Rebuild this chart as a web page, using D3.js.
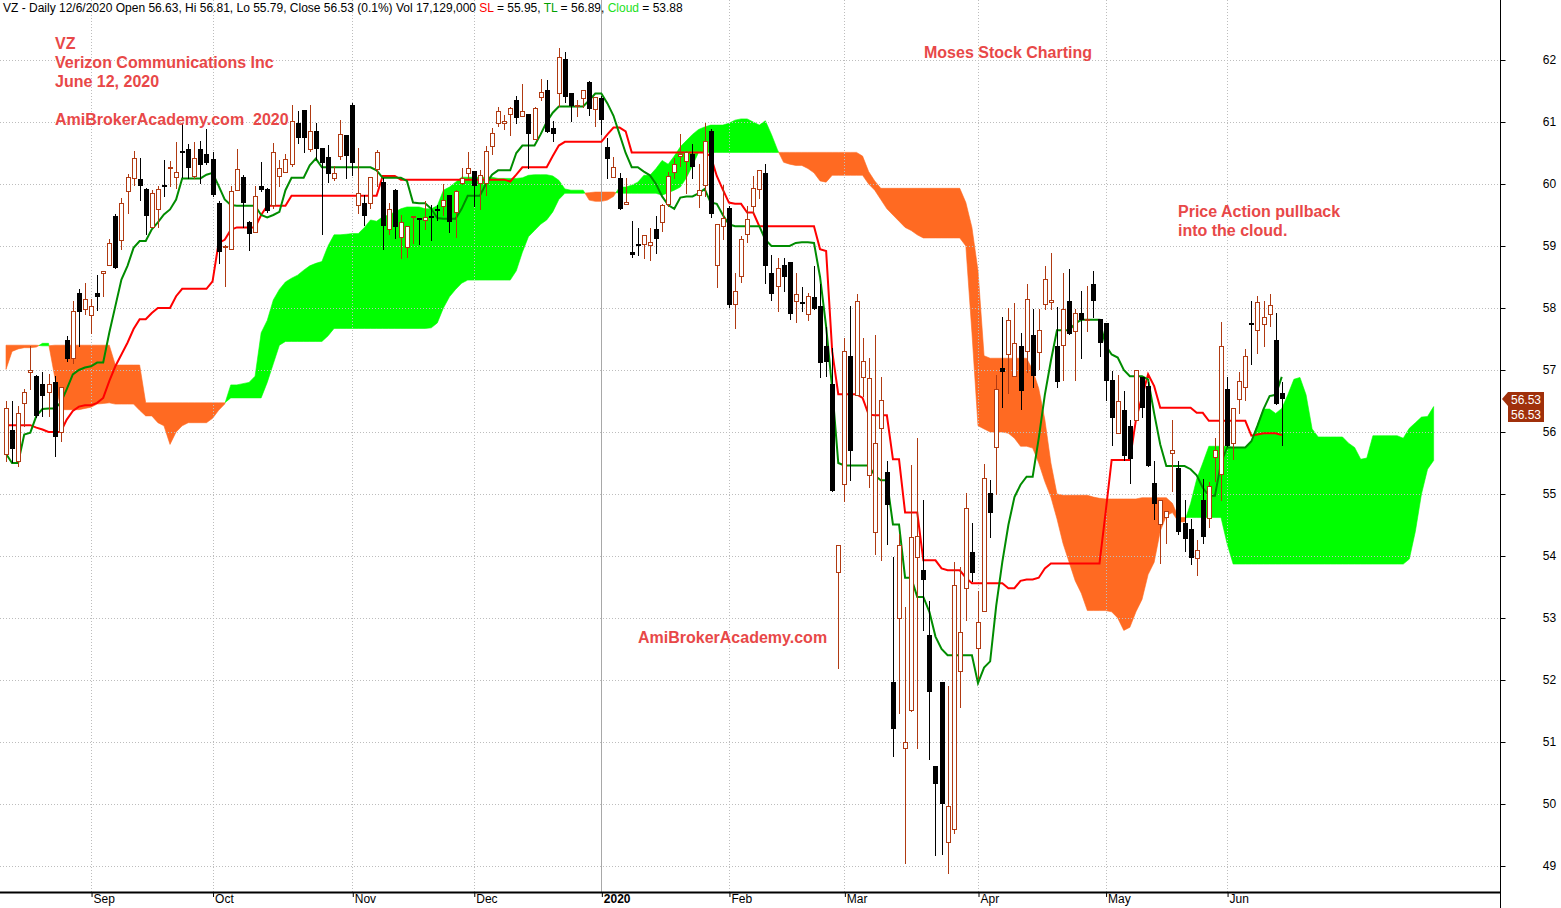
<!DOCTYPE html>
<html><head><meta charset="utf-8">
<script src="https://cdn.jsdelivr.net/npm/d3@7"></script>
<style>html,body{margin:0;padding:0;background:#fff;overflow:hidden}text{font-family:"Liberation Sans",Arial,sans-serif}</style>
</head><body>
<svg id="c" width="1561" height="908"></svg>
<script>
// ---- data (bar 0 = 13 Aug 2019, last bar = 12 Jun 2020) ----
const openP = [
55.64,56.04,55.53,56.47,56.97, 56.90,56.78,56.65,56.80,56.00, 57.49,57.20,58.24,57.99,57.89,
58.24,58.57,58.69,59.49,59.10, 59.89,60.09,60.08,59.92,59.31, 59.60,59.98,60.26,60.12,60.53,
60.57,60.13,60.56,60.49,60.40, 59.70,58.98,58.95,59.90,60.11, 59.39,59.23,59.97,59.92,59.66,
60.13,60.20,60.33,60.99,61.20, 60.57,60.86,60.58,60.43,60.09, 60.45,60.79,61.27,59.66,59.69,
59.69,60.24,60.03,59.28,59.90, 59.14,58.99,59.46,59.45,59.42, 59.48,59.60,59.65,59.83,59.55,
60.02,60.17,60.21,60.01,60.01, 60.62,60.99,60.98,61.13,61.35, 61.09,61.13,60.72,61.40,61.51,
60.90,61.46,62.01,61.46,61.26, 61.38,61.64,61.21,61.38,60.60, 60.11,60.10,59.68,58.91,59.03,
59.03,59.01,59.27,59.38,59.68, 60.20,60.45,60.37,60.49,59.83, 59.98,60.85,58.69,59.32,59.61,
58.07,58.52,59.20,59.65,59.92, 60.18,58.57,58.35,58.70,58.75, 58.11,58.09,57.91,58.18,58.04,
57.38,56.78,53.74,55.16,57.22, 56.60,56.88,55.30,54.38,56.07, 55.36,51.96,53.00,50.91,51.51,
53.99,53.77,52.73,50.62,51.97, 49.38,49.60,52.15,53.49,54.07, 52.51,53.12,55.01,55.75,57.03,
57.26,56.90,57.39,57.30,57.56, 57.29,58.06,58.10,57.39,57.41, 58.12,57.63,57.92,57.80,58.38,
57.82,57.76,56.84,55.99,56.36, 56.10,56.20,56.88,56.75,55.17, 54.51,54.63,55.66,55.42,54.54,
54.44,53.96,54.91,54.62,55.59, 55.33,56.70,55.83,56.53,56.73, 57.76,57.65,57.75,57.90,57.48,
56.63];
const highP = [
56.50,56.50,56.42,56.69,57.39, 56.92,56.96,56.93,56.90,56.72, 57.55,58.11,58.30,58.41,58.15,
58.53,58.60,59.11,59.51,59.78, 60.16,60.53,60.42,59.94,59.91, 59.96,60.38,60.37,60.67,60.99,
60.64,60.67,60.69,60.88,60.51, 59.72,59.01,59.96,60.56,60.15, 59.40,59.97,60.36,59.93,60.66,
60.39,60.49,61.27,61.18,61.20, 61.28,60.98,60.58,60.63,60.29, 61.03,60.79,61.30,60.58,59.82,
60.11,60.55,60.09,59.69,59.92, 59.50,59.32,59.49,59.45,59.72, 59.66,59.66,60.00,59.83,59.90,
60.26,60.51,60.21,60.22,60.62, 60.90,61.24,61.12,61.24,61.42, 61.61,61.13,61.24,61.69,61.68,
61.01,62.20,62.13,61.46,61.35, 61.52,61.66,61.40,61.42,60.75, 60.43,60.17,60.09,59.40,59.29,
59.17,59.29,59.49,59.68,60.19, 60.42,60.80,60.53,60.64,60.32, 60.98,60.89,59.36,59.99,59.65,
58.56,59.16,59.65,60.13,60.23, 60.33,58.85,58.81,58.80,58.75, 58.56,58.34,58.24,58.68,58.38,
57.70,57.36,54.17,57.52,58.04, 58.22,57.51,57.20,57.56,56.88, 55.53,53.99,54.36,53.17,55.46,
55.91,54.91,53.28,50.62,51.97, 51.91,53.90,53.83,55.02,54.53, 53.44,55.49,55.23,56.92,57.86,
58.00,58.08,57.59,58.38,57.99, 57.99,58.68,58.89,58.02,58.56, 58.63,57.98,58.27,58.36,58.60,
57.82,57.76,56.99,56.92,56.66, 56.20,57.00,56.89,56.80,55.54, 54.91,54.72,56.19,55.53,54.90,
54.60,54.26,55.24,55.20,55.91, 57.77,56.88,56.39,56.96,57.34, 58.11,58.19,58.11,58.22,57.92,
56.81];
const lowP = [
55.53,55.51,55.45,56.10,56.69, 56.24,56.26,56.26,55.62,55.85, 57.15,57.12,57.38,57.90,57.60,
57.97,58.19,58.69,58.65,58.95, 59.54,59.98,59.74,59.19,59.31, 59.30,59.81,59.97,59.94,60.12,
60.10,60.10,60.02,60.33,59.81, 58.73,58.35,58.95,59.90,59.31, 58.94,59.23,59.88,59.55,59.61,
59.96,60.20,60.29,60.66,60.51, 60.53,60.41,59.20,60.04,60.06, 60.41,60.09,60.15,59.54,59.34,
59.62,59.96,58.95,59.19,59.13, 58.80,58.83,59.05,59.03,59.28, 59.09,59.42,59.50,59.23,59.15,
60.00,60.09,59.65,59.60,59.82, 60.49,60.93,60.88,60.79,60.99, 61.09,60.26,60.72,61.35,60.84,
60.70,61.26,61.32,61.02,61.10, 61.24,61.11,60.94,60.81,60.10, 60.11,59.59,59.67,58.83,58.86,
58.81,58.78,58.89,59.24,59.65, 60.10,60.29,59.86,60.10,59.63, 59.81,59.46,58.34,59.11,58.02,
57.67,58.42,59.06,59.53,59.78, 58.41,58.13,57.95,58.27,57.82, 57.77,57.95,57.81,57.99,56.88,
56.90,55.05,52.20,54.88,55.22, 56.60,56.58,55.11,54.03,53.94, 54.20,50.78,51.47,49.05,51.50,
50.90,52.80,50.73,49.17,49.20, 48.88,49.54,51.56,52.96,53.59, 52.04,53.12,54.30,55.00,56.41,
56.63,56.90,56.37,56.97,56.73, 57.01,57.98,57.98,56.73,56.84, 57.58,56.84,57.19,57.63,57.86,
57.22,56.52,55.79,55.99,55.55, 55.18,56.20,56.25,55.45,54.59, 53.89,54.21,55.05,54.35,54.08,
53.87,53.69,54.21,54.46,55.21, 54.91,55.77,55.56,56.31,56.52, 57.10,57.28,57.39,57.71,56.45,
55.79];
const closeP = [
56.38,55.72,56.30,56.65,57.00, 56.26,56.58,56.78,55.92,56.72, 57.17,57.95,57.94,58.15,58.03,
58.18,58.59,59.05,58.65,59.70, 60.12,60.42,59.96,59.48,59.86, 59.92,59.97,60.28,60.20,60.51,
60.26,60.42,60.31,60.34,59.83, 58.90,59.00,59.89,60.24,59.70, 59.20,59.81,59.90,59.57,60.52,
60.26,60.40,61.02,60.74,60.75, 60.86,60.56,60.34,60.16,60.17, 60.80,60.45,60.34,59.85,59.48,
60.11,60.51,59.33,59.60,59.30, 59.39,59.32,59.49,59.43,59.47, 59.46,59.58,59.75,59.38,59.88,
60.10,60.25,59.97,60.14,60.53, 60.82,61.18,61.01,61.22,61.06, 61.18,60.80,61.22,61.49,60.84,
60.80,62.05,61.40,61.26,61.28, 61.52,61.21,61.40,61.04,60.40, 60.27,59.59,59.71,58.86,59.01,
59.17,59.06,59.11,59.66,60.13, 60.32,60.49,60.51,60.28,59.91, 60.69,59.51,59.36,59.45,58.05,
58.27,59.12,59.44,59.94,60.23, 58.68,58.22,58.65,58.50,57.90, 58.22,58.07,58.20,57.99,57.11,
57.13,55.05,54.17,57.31,55.70, 58.11,57.15,56.87,55.83,56.52, 54.82,51.21,54.17,51.00,54.31,
54.33,53.62,51.81,50.33,50.00, 49.96,53.54,52.78,54.78,53.72, 52.93,55.25,54.70,56.69,56.97,
57.80,57.44,56.66,58.14,56.91, 57.65,58.46,58.13,56.80,57.99, 57.58,57.92,57.81,57.82,58.11,
57.43,56.82,56.23,56.50,55.61, 55.57,57.00,56.39,55.45,54.84, 54.91,54.72,55.71,54.38,54.27,
53.97,54.10,54.30,55.13,55.71, 57.38,55.77,56.39,56.82,57.22, 57.74,58.09,57.86,58.05,56.45,
56.53];
// TL (turning line, green)
const turningLine = [
55.65,55.5,55.5,55.96,55.99, 56.26,56.37,56.38,56.38,56.47, 56.69,56.93,57.0,57.04,57.06,
57.12,57.12,57.6,58.03,58.46, 58.68,58.97,59.08,59.08,59.27, 59.38,59.51,59.59,59.75,60.09,
60.09,60.09,60.09,60.15,60.18, 59.97,59.75,59.66,59.65,59.65, 59.65,59.65,59.5,59.46,59.5,
59.55,59.9,60.1,60.1,60.1, 60.3,60.41,60.27,60.27,60.27, 60.27,60.27,60.27,60.27,60.27,
60.27,60.22,60.1,60.1,60.1, 60.1,60.05,59.7,59.69,59.69, 59.6,59.45,59.44,59.44,59.44,
59.6,59.81,59.81,59.81,60.0, 60.15,60.22,60.22,60.22,60.5, 60.62,60.62,60.62,60.8,61.0,
61.15,61.25,61.25,61.25,61.25, 61.25,61.35,61.46,61.46,61.3, 61.1,60.8,60.5,60.27,60.27,
60.2,60.14,60.0,59.8,59.66, 59.6,59.78,59.8,59.8,59.85, 59.92,59.7,59.68,59.5,59.35,
59.32,59.32,59.32,59.32,59.32, 59.1,59.0,59.0,59.0,59.0, 59.05,59.06,59.06,59.05,58.5,
57.7,56.7,55.5,55.46,55.46, 55.46,55.46,55.46,55.3,55.22, 55.22,54.51,54.51,53.65,53.65,
53.34,53.34,53.1,52.7,52.5, 52.4,52.4,52.4,52.4,52.4, 51.95,52.2,52.3,53.2,53.9,
54.5,54.95,55.15,55.28,55.28, 55.9,56.6,57.15,57.64,57.64, 57.64,57.75,57.81,57.81,57.81,
57.81,57.4,57.25,57.2,57.0, 56.9,56.9,56.9,56.85,56.3, 55.8,55.45,55.45,55.45,55.45,
55.4,55.3,55.1,54.97,54.97, 55.5,55.75,55.75,55.75,55.75, 55.85,56.1,56.37,56.58,56.6,
56.89];
// SL (standard line, red)
const standardLine = [
56.11,56.11,56.11,56.11,56.11, 56.07,56.04,56.0,56.0,56.0, 56.2,56.34,56.41,56.43,56.43,
56.47,56.55,56.82,57.06,57.25, 57.44,57.66,57.82,57.82,57.92, 58.0,58.0,58.0,58.19,58.31,
58.31,58.31,58.31,58.31,58.43, 59.05,59.1,59.26,59.3,59.3, 59.3,59.3,59.5,59.65,59.65,
59.65,59.65,59.81,59.81,59.81, 59.81,59.81,59.81,59.81,59.81, 59.81,59.81,59.81,59.81,59.81,
59.81,59.81,60.13,60.13,60.13, 60.07,60.07,60.07,60.07,60.07, 60.07,60.07,60.07,60.07,60.07,
60.07,60.07,60.07,60.07,60.07, 60.07,60.07,60.07,60.04,60.15, 60.27,60.27,60.27,60.27,60.27,
60.45,60.62,60.68,60.68,60.68, 60.68,60.68,60.68,60.68,60.8, 60.91,60.91,60.85,60.51,60.51,
60.51,60.51,60.51,60.51,60.51, 60.51,60.51,60.51,60.51,60.51, 60.51,60.45,60.13,59.91,59.70,
59.68,59.68,59.54,59.54,59.32, 59.32,59.32,59.32,59.32,59.32, 59.32,59.32,59.32,59.32,58.95,
58.92,57.3,56.61,56.61,56.61, 56.61,56.55,56.28,56.27,56.27, 56.27,55.56,55.56,54.7,54.7,
54.7,53.93,53.93,53.93,53.8, 53.77,53.77,53.77,53.65,53.56, 53.56,53.56,53.56,53.56,53.56,
53.48,53.48,53.6,53.62,53.62, 53.65,53.8,53.88,53.88,53.88, 53.88,53.88,53.88,53.88,53.88,
53.88,54.7,55.55,55.55,55.55, 55.55,56.2,56.57,56.93,56.74, 56.39,56.39,56.39,56.39,56.39,
56.39,56.31,56.31,56.18,56.18, 56.18,56.18,56.18,56.18,56.18, 55.94,55.96,55.98,55.98,55.98,
55.95];
// Cloud spans (shifted forward; 25 bars beyond the last bar)
const cloudA = [
57.01,57.30,57.34,57.36,57.36, 57.37,57.43,57.43,56.90,56.36, 56.36,56.36,56.36,56.38,56.40,
56.45,56.46,56.47,56.45,56.45, 56.45,56.45,56.35,56.26,56.26, 56.15,56.10,55.80,56.00,56.10,
56.15,56.15,56.15,56.15,56.22, 56.35,56.45,56.76,56.76,56.78, 56.80,56.90,57.60,57.80,58.13,
58.30,58.42,58.48,58.53,58.61, 58.68,58.72,58.75,59.00,59.18, 59.18,59.19,59.20,59.20,59.30,
59.42,59.40,59.47,59.50,59.55, 59.60,59.63,59.63,59.63,59.60, 59.60,59.65,59.90,59.95,60.03,
60.11,60.11,60.11,60.11,60.11, 60.11,60.09,60.09,60.09,60.09, 60.10,60.14,60.15,60.15,60.15,
60.13,60.06,59.92,59.90,59.90, 59.90,59.74,59.72,59.72,59.74, 59.80,59.95,59.95,59.98,60.03,
60.14,60.14,60.25,60.38,60.32, 60.45,60.60,60.70,60.80,60.88, 60.92,60.95,60.95,60.95,60.98,
61.03,61.05,61.05,61.00,60.95, 61.02,60.80,60.55,60.35,60.32, 60.30,60.30,60.25,60.18,60.05,
60.03,60.14,60.14,60.14,60.14, 60.14,60.14,60.00,59.90,59.75, 59.60,59.50,59.40,59.30,59.25,
59.18,59.13,59.13,59.13,59.13, 59.13,59.13,59.13,59.00,57.60, 56.10,56.05,56.00,56.00,56.00,
55.98,55.90,55.77,55.77,55.74, 55.50,55.20,54.95,54.60,54.20, 53.90,53.60,53.40,53.12,53.12,
53.12,53.12,53.10,53.00,52.80, 52.85,53.10,53.30,53.70,53.90, 54.40,54.65,54.70,54.55,54.55,
54.85,55.24,55.50,55.77,55.77, 55.77,55.77,55.75,55.75,55.75, 55.85,56.12,56.37,56.37,56.30,
56.38,56.60,56.85,56.88,56.60, 56.05,55.92,55.92,55.92,55.92, 55.92,55.82,55.75,55.56,55.58,
55.94,55.94,55.94,55.94,55.94, 55.90,56.06,56.15,56.24,56.25, 56.41];
const cloudB = [
57.40,57.40,57.40,57.40,57.40, 57.40,57.39,57.39,57.40,57.40, 57.40,57.40,57.40,57.40,57.40,
57.40,57.40,57.40,57.08,57.08, 57.08,57.08,57.08,56.47,56.47, 56.47,56.47,56.47,56.47,56.47,
56.47,56.47,56.47,56.47,56.47, 56.47,56.47,56.55,56.55,56.55, 56.55,56.55,56.55,56.80,57.10,
57.40,57.46,57.46,57.46,57.46, 57.46,57.46,57.46,57.55,57.67, 57.67,57.67,57.67,57.67,57.67,
57.67,57.67,57.67,57.67,57.67, 57.67,57.67,57.67,57.67,57.67, 57.68,57.76,58.00,58.18,58.30,
58.40,58.45,58.45,58.45,58.45, 58.45,58.45,58.45,58.45,58.60, 58.90,59.15,59.25,59.35,59.42,
59.55,59.75,59.85,59.85,59.85, 59.85,59.86,59.87,59.87,59.87, 59.87,59.85,59.85,59.85,59.85,
59.85,59.85,59.85,59.82,59.86, 59.90,59.95,60.10,60.30,60.51, 60.51,60.51,60.51,60.51,60.51,
60.51,60.51,60.51,60.51,60.51, 60.51,60.51,60.51,60.51,60.51, 60.51,60.51,60.51,60.51,60.51,
60.51,60.51,60.51,60.51,60.51, 60.51,60.45,60.20,60.05,59.93, 59.93,59.93,59.93,59.93,59.93,
59.93,59.93,59.93,59.93,59.93, 59.93,59.93,59.93,59.70,59.30, 58.60,57.23,57.19,57.19,57.19,
57.19,57.19,57.19,57.19,57.00, 56.70,56.20,55.50,55.00,54.98, 54.98,54.98,54.98,54.98,54.95,
54.93,54.92,54.92,54.92,54.92, 54.92,54.92,54.94,54.94,54.94, 54.94,54.94,54.85,54.62,54.62,
54.62,54.62,54.62,54.62,54.62, 54.62,54.20,53.87,53.87,53.87, 53.87,53.87,53.87,53.87,53.87,
53.87,53.87,53.87,53.87,53.87, 53.87,53.87,53.87,53.87,53.87, 53.87,53.87,53.87,53.87,53.87,
53.87,53.87,53.87,53.87,53.87, 53.87,53.95,54.40,55.00,55.40, 55.54];
const monthLabels = ['Sep','Oct','Nov','Dec','2020','Feb','Mar','Apr','May','Jun'];
const monthStart = [14,34,57,77,98,119,138,160,181,201];
const priceTicks = [49,50,51,52,53,54,55,56,57,58,59,60,61,62];

// ---- layout ----
const svg = d3.select('#c');
const axisX = 1500, axisY = 892;
const lastIdx = openP.length - 1;
const x = d3.scaleLinear().domain([0, lastIdx]).range([6, 6 + lastIdx * 6.075]);
const y = d3.scaleLinear().domain([49, 62]).range([866, 60]);
const upCol = '#b03a12', gridCol = '#bdbdbd';
const font = '"Liberation Sans",Arial,sans-serif';

// cloud
const pts = cloudA.map((a, k) => ({i: k, a, b: cloudB[k]}));
const runs = []; let cur = null;
pts.forEach((p, k) => {
  const s = p.a >= p.b ? 1 : -1;
  if (!cur) { cur = {s, pts: [p]}; return; }
  if (s === cur.s) { cur.pts.push(p); return; }
  const q = pts[k - 1], d0 = q.a - q.b, d1 = p.a - p.b, t = d0 / (d0 - d1);
  const v = q.a + (p.a - q.a) * t, cp = {i: q.i + t, a: v, b: v};
  cur.pts.push(cp); runs.push(cur); cur = {s, pts: [cp, p]};
});
runs.push(cur);
const area = d3.area().x(d => x(d.i)).y0(d => y(d.b)).y1(d => y(d.a));
const gc = svg.append('g');
runs.forEach(r => gc.append('path').attr('d', area(r.pts))
  .attr('fill', r.s > 0 ? '#00ff00' : '#ff6a22').attr('stroke', r.s > 0 ? '#00ff00' : '#ff6a22').attr('stroke-width', 0.6));

// grid
const gg = svg.append('g');
priceTicks.forEach(v => gg.append('line').attr('x1', 0).attr('x2', axisX)
  .attr('y1', Math.round(y(v)) + 0.5).attr('y2', Math.round(y(v)) + 0.5)
  .attr('stroke', gridCol).attr('stroke-dasharray', '1,2'));
monthStart.forEach((m, k) => {
  const xx = Math.round(x(m)) + 0.5;
  const ln = gg.append('line').attr('x1', xx).attr('x2', xx).attr('y1', 0).attr('y2', axisY);
  if (monthLabels[k] === '2020') ln.attr('stroke', '#a8a8a8');
  else ln.attr('stroke', gridCol).attr('stroke-dasharray', '1,2');
});

// lines
const lineGen = d3.line().x((d, i) => x(i)).y(d => y(d));
svg.append('path').attr('d', lineGen(standardLine)).attr('fill', 'none').attr('stroke', '#ff0000').attr('stroke-width', 2);
svg.append('path').attr('d', lineGen(turningLine)).attr('fill', 'none').attr('stroke', '#008c00').attr('stroke-width', 2);

// candles
const cg = svg.append('g');
openP.forEach((o, i) => {
  const h = highP[i], l = lowP[i], c = closeP[i];
  const cx = Math.round(x(i)) + 0.5;
  const up = c >= o;
  const col = up ? upCol : '#000';
  cg.append('line').attr('x1', cx).attr('x2', cx).attr('y1', Math.round(y(h))).attr('y2', Math.round(y(l)) + 1).attr('stroke', col);
  const top = Math.round(y(Math.max(o, c))), bot = Math.round(y(Math.min(o, c)));
  if (up) {
    cg.append('rect').attr('x', cx - 2).attr('y', top + 0.5).attr('width', 4).attr('height', Math.max(bot - top, 1))
      .attr('fill', '#fff').attr('stroke', upCol);
  } else {
    cg.append('rect').attr('x', cx - 2.5).attr('y', top).attr('width', 5).attr('height', Math.max(bot - top, 2)).attr('fill', '#000');
  }
});

// axes
const ax = svg.append('g');
ax.append('line').attr('x1', axisX + 0.5).attr('x2', axisX + 0.5).attr('y1', 0).attr('y2', 908).attr('stroke', '#000');
ax.append('line').attr('x1', 0).attr('x2', axisX).attr('y1', axisY + 0.5).attr('y2', axisY + 0.5).attr('stroke', '#000').attr('stroke-width', 2);
const yAxis = d3.axisRight(y).tickValues(priceTicks).tickSize(5).tickFormat(d3.format('d'));
const yg = svg.append('g').attr('transform', `translate(${axisX + 0.5},0)`).call(yAxis);
yg.select('.domain').remove();
yg.selectAll('text').attr('x', 49).attr('text-anchor', 'middle').style('font-family', font).style('font-size', '12px').attr('fill', '#000');
const xAxis = d3.axisBottom(x).tickValues(monthStart).tickSize(5).tickFormat((d, k) => monthLabels[k]);
const xg = svg.append('g').attr('transform', `translate(0,${axisY})`).call(xAxis);
xg.select('.domain').remove();
xg.selectAll('.tick line').attr('transform', 'translate(0.5,0)');
xg.selectAll('text').attr('text-anchor', 'start').attr('x', 2).attr('y', 2).attr('dy', '0.71em')
  .style('font-family', font).style('font-size', '12px').attr('fill', '#000')
  .style('font-weight', (d, k) => monthLabels[k] === '2020' ? 'bold' : 'normal');

// price label
const ly = Math.round(y(closeP[lastIdx]));
svg.append('polygon').attr('points', [[1502, ly], [1508, ly - 7], [1544, ly - 7], [1544, ly + 23], [1508, ly + 23], [1508, ly + 7]].map(p => p.join(',')).join(' '))
  .attr('fill', '#a0300b');
[0, 15].forEach(dy => svg.append('text').attr('x', 1526).attr('y', ly + 5 + dy).attr('text-anchor', 'middle')
  .style('font-family', font).style('font-size', '12px').attr('fill', '#fff').text(closeP[lastIdx].toFixed(2)));

// header
const hdr = svg.append('text').attr('x', 3).attr('y', 12).style('font-family', font).style('font-size', '12px').attr('fill', '#000');
[['VZ - Daily 12/6/2020 Open 56.63, Hi 56.81, Lo 55.79, Close 56.53 (0.1%) Vol 17,129,000 ', '#000'],
 ['SL', '#ff0000'], [' = 55.95, ', '#000'], ['TL', '#00a000'], [' = 56.89, ', '#000'], ['Cloud', '#22e022'], [' = 53.88', '#000']]
  .forEach(([t, c]) => hdr.append('tspan').attr('fill', c).text(t));

// annotations
const notes = [
  ['VZ', 55, 49], ['Verizon Communications Inc', 55, 68], ['June 12, 2020', 55, 87],
  ['AmiBrokerAcademy.com  2020', 55, 125], ['Moses Stock Charting', 924, 58],
  ['Price Action pullback', 1178, 217], ['into the cloud.', 1178, 236], ['AmiBrokerAcademy.com', 638, 643]];
notes.forEach(([t, xx, yy]) => svg.append('text').attr('x', xx).attr('y', yy).attr('xml:space', 'preserve')
  .style('font-family', font).style('font-size', '16px').style('font-weight', 'bold').style('white-space', 'pre')
  .attr('fill', '#e84848').text(t));
</script>
</body></html>
